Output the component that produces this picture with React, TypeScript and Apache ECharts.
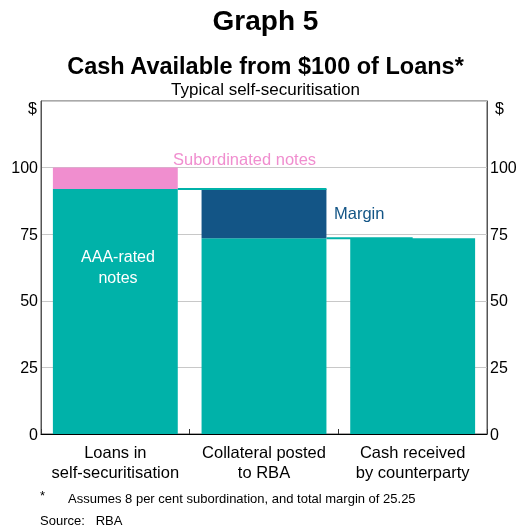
import React, { useEffect, useRef } from "react";
import * as echarts from "echarts";

const categories = ["Loans in\nself-securitisation", "Collateral posted\nto RBA", "Cash received\nby counterparty"];
const aaaNotes = [92, 73.45, 73.45];
const subordinated = [8, "-", "-"];
const margin = ["-", 18.55, "-"];
const connector1 = [[0.92, 92], [1.92, 92]];
const connector2 = [[1.92, 73.45], [2.5, 73.45]];
const yTicks = { min: 0, max: 125, interval: 25 };

const FONT = "'Liberation Sans', Arial, sans-serif";
const TEAL = "#00b2a9";
const PINK = "#f08ecf";
const NAVY = "#135586";

export default function App() {
  const ref = useRef<HTMLDivElement>(null);
  useEffect(() => {
    const chart = echarts.init(ref.current!, null, { renderer: "svg" });
    const yLabel = {
      fontSize: 16,
      color: "#000",
      fontFamily: FONT,
      formatter: (v: number) => (v === 125 ? "" : String(v)),
    };
    chart.setOption({
      animation: false,
      textStyle: { fontFamily: FONT },
      title: [
        { text: "Graph 5", left: "center", top: 1, textStyle: { fontSize: 28, fontWeight: "bold", color: "#000", fontFamily: FONT } },
        { text: "Cash Available from $100 of Loans*", left: "center", top: 49, textStyle: { fontSize: 23.5, fontWeight: "bold", color: "#000", fontFamily: FONT } },
        { text: "Typical self-securitisation", left: "center", top: 76, textStyle: { fontSize: 17, fontWeight: "normal", color: "#000", fontFamily: FONT } },
      ],
      grid: { left: 41, right: 44, top: 101, bottom: 95, show: true, borderColor: "#555", borderWidth: 1 },
      xAxis: [
        {
          type: "category",
          data: categories,
          axisLine: { lineStyle: { color: "#000", width: 1 } },
          axisTick: { show: true, inside: true, length: 5, lineStyle: { color: "#333" } },
          axisLabel: { interval: 0, fontSize: 16.5, color: "#000", lineHeight: 20, margin: 8, fontFamily: FONT },
        },
        { type: "value", min: 0, max: 3, show: false },
      ],
      yAxis: [
        {
          type: "value", ...yTicks, position: "left",
          axisLine: { show: true, lineStyle: { color: "#555" } },
          axisTick: { show: false },
          splitLine: { lineStyle: { color: "#c8c8c8" } },
          axisLabel: { ...yLabel, margin: 3 },
        },
        {
          type: "value", ...yTicks, position: "right",
          axisLine: { show: true, lineStyle: { color: "#555" } },
          axisTick: { show: false },
          splitLine: { show: false },
          axisLabel: { ...yLabel, margin: 3 },
        },
      ],
      series: [
        { name: "AAA-rated notes", type: "bar", stack: "s", data: aaaNotes, barWidth: "84%", itemStyle: { color: TEAL } },
        { name: "Subordinated notes", type: "bar", stack: "s", data: subordinated, barWidth: "84%", itemStyle: { color: PINK } },
        { name: "Margin", type: "bar", stack: "s", data: margin, barWidth: "84%", itemStyle: { color: NAVY } },
        { type: "line", xAxisIndex: 1, yAxisIndex: 0, data: connector1, symbol: "none", lineStyle: { color: TEAL, width: 2 }, z: 5 },
        { type: "line", xAxisIndex: 1, yAxisIndex: 0, data: connector2, symbol: "none", lineStyle: { color: TEAL, width: 2 }, z: 1 },
      ],
      graphic: [
        { type: "text", left: 28, top: 100, z: 100, style: { text: "$", fontSize: 16, fill: "#000", fontFamily: FONT } },
        { type: "text", left: 495, top: 100, z: 100, style: { text: "$", fontSize: 16, fill: "#000", fontFamily: FONT } },
        { type: "text", left: 173, top: 150, z: 100, style: { text: "Subordinated notes", fontSize: 16.5, fill: PINK, fontFamily: FONT } },
        { type: "text", left: 334, top: 204, z: 100, style: { text: "Margin", fontSize: 16.5, fill: NAVY, fontFamily: FONT } },
        { type: "text", x: 118, y: 246, z: 100, style: { text: "AAA-rated\nnotes", fontSize: 16, lineHeight: 21, fill: "#fff", align: "center", fontFamily: FONT } },
        { type: "text", left: 40, top: 489, z: 100, style: { text: "*", fontSize: 13, fill: "#000", fontFamily: FONT } },
        { type: "text", left: 68, top: 492, z: 100, style: { text: "Assumes 8 per cent subordination, and total margin of 25.25", fontSize: 13, fill: "#000", fontFamily: FONT } },
        { type: "text", left: 40, top: 514, z: 100, style: { text: "Source:   RBA", fontSize: 13, fill: "#000", fontFamily: FONT } },
      ],
    });
    return () => chart.dispose();
  }, []);
  return <div ref={ref} style={{ position: "fixed", left: 0, top: 0, width: 531, height: 529 }} />;
}
